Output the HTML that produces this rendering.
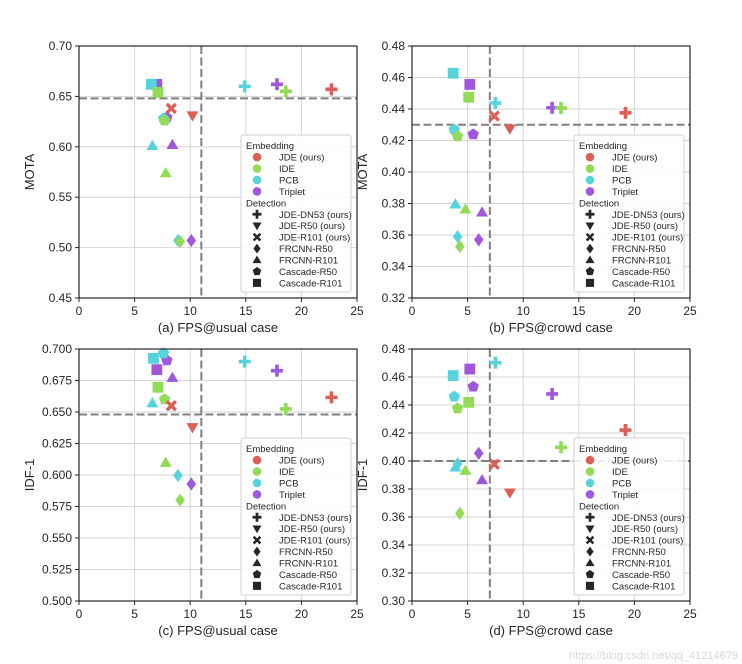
<!DOCTYPE html>
<html><head><meta charset="utf-8"><style>
body{margin:0;background:#fff;}
svg{display:block;font-family:"Liberation Sans",Arial,sans-serif;}
</style></head><body>
<svg id="fig" width="742" height="664" viewBox="0 0 742 664" xmlns="http://www.w3.org/2000/svg"></svg>
<script>
const colors = ["#db5f57","#91db57","#57d3db","#a157db"];
const embeddings = ["JDE (ours)","IDE","PCB","Triplet"];
const detections = ["JDE-DN53 (ours)","JDE-R50 (ours)","JDE-R101 (ours)","FRCNN-R50","FRCNN-R101","Cascade-R50","Cascade-R101"];
const detShapes = ["plus","tri","x","diamond","triup","pent","square"];
// Panel (a): MOTA vs FPS usual
const aX = [[22.7,10.2,8.3],[18.6,7.1,7.7,7.8,9.1],[14.9,6.5,7.6,6.6,8.9],[17.8,7.0,7.9,8.4,10.1]];
const aY = [[0.657,0.631,0.638],[0.655,0.654,0.626,0.574,0.506],[0.660,0.662,0.628,0.601,0.507],[0.662,0.662,0.629,0.602,0.507]];
// Panel (b): MOTA vs FPS crowd
const bX = [[19.2,8.8,7.4],[13.4,5.1,4.1,4.8,4.3],[7.5,3.7,3.8,3.9,4.1],[12.6,5.2,5.5,6.3,6.0]];
const bY = [[0.4376,0.4275,0.4355],[0.4406,0.4475,0.4227,0.3763,0.3527],[0.4438,0.4627,0.4269,0.3795,0.359],[0.4408,0.4556,0.4239,0.3744,0.357]];
// Panel (c): IDF-1 vs FPS usual
const cX = [[22.7,10.2,8.3],[18.6,7.1,7.7,7.8,9.1],[14.9,6.7,7.6,6.6,8.9],[17.8,7.0,7.9,8.4,10.1]];
const cY = [[0.6616,0.6378,0.655],[0.6524,0.6696,0.660,0.6098,0.580],[0.690,0.6926,0.6966,0.657,0.5997],[0.6828,0.6836,0.691,0.6772,0.5929]];
// Panel (d): IDF-1 vs FPS crowd
const dX = [[19.2,8.8,7.4],[13.4,5.1,4.1,4.8,4.3],[7.5,3.7,3.8,3.9,4.1],[12.6,5.2,5.5,6.3,6.0]];
const dY = [[0.4221,0.3774,0.3976],[0.4098,0.4419,0.4376,0.3931,0.3626],[0.4702,0.461,0.446,0.3955,0.398],[0.4479,0.4657,0.4531,0.3864,0.4055]];
const jdeShapes = [0,1,2];
const otherShapes = [0,6,5,4,3];
const xTicks = [0,5,10,15,20,25];
const aTicks = ["0.45","0.50","0.55","0.60","0.65","0.70"];
const bTicks = ["0.32","0.34","0.36","0.38","0.40","0.42","0.44","0.46","0.48"];
const cTicks = ["0.500","0.525","0.550","0.575","0.600","0.625","0.650","0.675","0.700"];
const dTicks = ["0.30","0.32","0.34","0.36","0.38","0.40","0.42","0.44","0.46","0.48"];
const refs = {a:[11,0.648],b:[7,0.430],c:[11,0.648],d:[7,0.400]};

const NS="http://www.w3.org/2000/svg";
const svg=document.getElementById('fig');
function mk(tag,attrs,parent){const e=document.createElementNS(NS,tag);for(const k in attrs)e.setAttribute(k,attrs[k]);(parent||svg).appendChild(e);return e;}

function marker(g,shape,cx,cy,col,s){
  let e;
  const r=s/2;
  if(shape==="circle") e=mk('circle',{cx,cy,r:r*0.95,fill:col},g);
  else if(shape==="square") e=mk('rect',{x:cx-r*0.9,y:cy-r*0.9,width:r*1.8,height:r*1.8,fill:col},g);
  else if(shape==="plus") e=mk('path',{d:`M${cx-r} ${cy}H${cx+r}M${cx} ${cy-r}V${cy+r}`,stroke:col,'stroke-width':s*0.3,fill:'none'},g);
  else if(shape==="x") e=mk('path',{d:`M${cx-r*0.75} ${cy-r*0.75}L${cx+r*0.75} ${cy+r*0.75}M${cx-r*0.75} ${cy+r*0.75}L${cx+r*0.75} ${cy-r*0.75}`,stroke:col,'stroke-width':s*0.28,fill:'none'},g);
  else if(shape==="tri") e=mk('polygon',{points:`${cx-r},${cy-r*0.7} ${cx+r},${cy-r*0.7} ${cx},${cy+r}`,fill:col},g);
  else if(shape==="triup") e=mk('polygon',{points:`${cx-r},${cy+r*0.7} ${cx+r},${cy+r*0.7} ${cx},${cy-r}`,fill:col},g);
  else if(shape==="diamond") e=mk('polygon',{points:`${cx},${cy-r*1.1} ${cx+r*0.8},${cy} ${cx},${cy+r*1.1} ${cx-r*0.8},${cy}`,fill:col},g);
  else if(shape==="pent"){let p=[];for(let i=0;i<5;i++){const a=-Math.PI/2+i*2*Math.PI/5;p.push((cx+r*Math.cos(a)).toFixed(1)+','+(cy+r*Math.sin(a)).toFixed(1));}e=mk('polygon',{points:p.join(' '),fill:col},g);}
  return e;
}

function panel(id,L,T,ylab,xlab,ticks,X,Y,ref){
  const W=278,H=252;
  const ymin=parseFloat(ticks[0]),ymax=parseFloat(ticks[ticks.length-1]);
  const sx=v=>L+v/25*W, sy=v=>T+H-(v-ymin)/(ymax-ymin)*H;
  const g=mk('g',{});
  
  
  for(const t of xTicks){
    if(t>0&&t<25) mk('line',{x1:sx(t),x2:sx(t),y1:T,y2:T+H,stroke:'#d6d6d6','stroke-width':1},g);
    mk('line',{x1:sx(t),x2:sx(t),y1:T+H,y2:T+H+4,stroke:'#262626','stroke-width':1},g);
    const tx=mk('text',{x:sx(t),y:T+H+17,'text-anchor':'middle','font-size':12,fill:'#262626'},g);tx.textContent=t;
    
    
  }
  for(const t of ticks){
    const v=parseFloat(t);
    if(v>ymin&&v<ymax) mk('line',{x1:L,x2:L+W,y1:sy(v),y2:sy(v),stroke:'#d6d6d6','stroke-width':1},g);
    mk('line',{x1:L-4,x2:L,y1:sy(v),y2:sy(v),stroke:'#262626','stroke-width':1},g);
    const tx=mk('text',{x:L-7,y:sy(v)+4,'text-anchor':'end','font-size':12,fill:'#262626'},g);tx.textContent=t;
    
    
  }
  mk('line',{x1:L,x2:L+W,y1:sy(ref[1]),y2:sy(ref[1]),stroke:'#808080','stroke-width':2,'stroke-dasharray':'8,3.5'},g);
  mk('line',{x1:sx(ref[0]),x2:sx(ref[0]),y1:T,y2:T+H,stroke:'#808080','stroke-width':2,'stroke-dasharray':'8,3.5'},g);
  for(let e=3;e>=0;e--){
    const sh=e===0?jdeShapes:otherShapes;
    for(let i=X[e].length-1;i>=0;i--){
      const m=marker(g,detShapes[sh[i]],sx(X[e][i]),sy(Y[e][i]),colors[e],12);
      
      
    }
  }
  mk('rect',{x:L,y:T,width:W,height:H,fill:'none',stroke:'#262626','stroke-width':1.2},g);
  const yl=mk('text',{x:0,y:0,transform:`translate(${L-45},${T+H/2}) rotate(-90)`,'text-anchor':'middle','font-size':13,fill:'#262626'},g);yl.textContent=ylab;
  
  
  const xl=mk('text',{x:L+W/2,y:T+H+34,'text-anchor':'middle','font-size':13,fill:'#262626'},g);xl.textContent=xlab;
  
  
  const lg=mk('g',{},g);
  
  
  const lx=L+162,ly=T+89;
  mk('rect',{x:lx,y:ly,width:110,height:157,rx:2,fill:'#fff','fill-opacity':0.85,stroke:'#d0d0d0','stroke-width':1},lg);
  let row=0;const rowY=r=>ly+10.7+r*11.43;
  const t1=mk('text',{x:lx+5,y:rowY(row)+3.5,'font-size':9.5,fill:'#262626'},lg);t1.textContent='Embedding';row++;
  for(let e=0;e<4;e++){
    const c=marker(lg,'circle',lx+16,rowY(row),colors[e],9);
    
    
    const t=mk('text',{x:lx+38,y:rowY(row)+3.5,'font-size':9.5,fill:'#262626'},lg);t.textContent=embeddings[e];
    
    
    row++;
  }
  const t2=mk('text',{x:lx+5,y:rowY(row)+3.5,'font-size':9.5,fill:'#262626'},lg);t2.textContent='Detection';row++;
  for(let d=0;d<7;d++){
    marker(lg,detShapes[d],lx+16,rowY(row),'#262626',9);
    const t=mk('text',{x:lx+38,y:rowY(row)+3.5,'font-size':9.5,fill:'#262626'},lg);t.textContent=detections[d];
    
    
    row++;
  }
}
panel('a',79,46,'MOTA','(a) FPS@usual case',aTicks,aX,aY,refs.a);
panel('b',412,46,'MOTA','(b) FPS@crowd case',bTicks,bX,bY,refs.b);
panel('c',79,349,'IDF-1','(c) FPS@usual case',cTicks,cX,cY,refs.c);
panel('d',412,349,'IDF-1','(d) FPS@crowd case',dTicks,dX,dY,refs.d);
const wm=mk('text',{x:738,y:659,'text-anchor':'end','font-size':11,fill:'#d8d8d8'});wm.textContent='https://blog.csdn.net/qq_41214679';


</script>
</body></html>
